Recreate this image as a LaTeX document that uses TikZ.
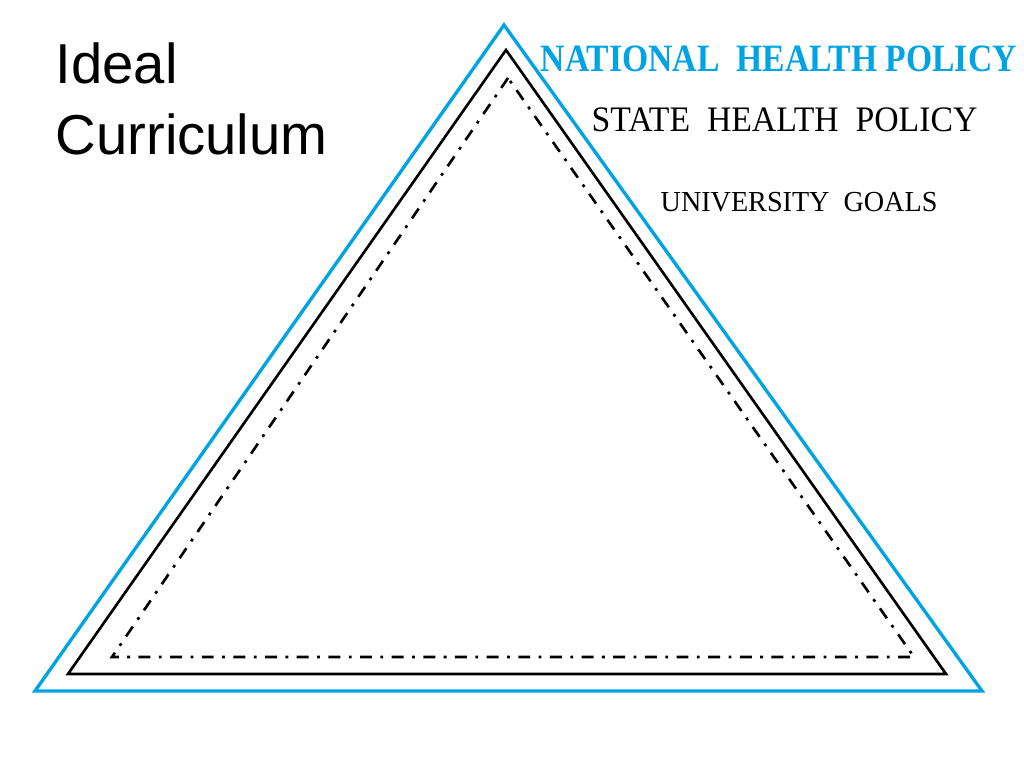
\documentclass[tikz,border=0pt]{standalone}
\usepackage{fontspec}
\setmainfont{Liberation Serif}
\setsansfont{Liberation Sans}
\newfontfamily\squeezed[FakeStretch=0.87]{Liberation Serif}
\newfontfamily\narrowed[FakeStretch=0.94]{Liberation Serif}
\newfontfamily\slimmed[FakeStretch=0.97]{Liberation Serif}
\definecolor{policyblue}{RGB}{0,163,228}
\tikzset{
  blueedge/.style={draw=policyblue, line width=0.95pt},
  blackedge/.style={draw=black, line width=0.75pt},
  dotedge/.style={draw=black, line width=0.75pt, dash pattern=on 3.4pt off 2.4pt on 0.8pt off 2.4pt},
  tagtext/.style={anchor=base west, inner sep=0pt},
}
\begin{document}
\begin{tikzpicture}[x=0.01cm,y=-0.01cm]
	\useasboundingbox (0,0) rectangle (1024,768);
	% national level
	\coordinate (na) at (504,25);
	\coordinate (nl) at (35,691);
	\coordinate (nr) at (982,691);
	% state level
	\coordinate (sa) at (506,50);
	\coordinate (sl) at (68,674);
	\coordinate (sr) at (946,674);
	% university level
	\coordinate (ua) at (508,78);
	\coordinate (ul) at (112,657);
	\coordinate (ur) at (914,657);
	\draw[blueedge] (na) -- (nl) -- (nr) -- cycle;
	\draw[blackedge] (sa) -- (sl) -- (sr) -- cycle;
	\draw[dotedge] (ua) -- (ul) -- (ur) -- cycle;
	\node[tagtext, text=policyblue, font=\squeezed\bfseries\fontsize{11}{13}\selectfont] (national) at (540,72) {NATIONAL\ \ HEALTH POLICY};
	\node[tagtext, font=\narrowed\fontsize{10.2}{12}\selectfont] (state) at (591,132) {STATE\ \ HEALTH\ \ POLICY};
	\node[tagtext, font=\slimmed\fontsize{8.25}{10}\selectfont] (university) at (660,212) {UNIVERSITY\ \ GOALS};
	\node[tagtext, align=left, font=\sffamily\fontsize{16}{20.2}\selectfont] (ideal) at (55,155) {Ideal\\Curriculum};
\end{tikzpicture}
\end{document}
